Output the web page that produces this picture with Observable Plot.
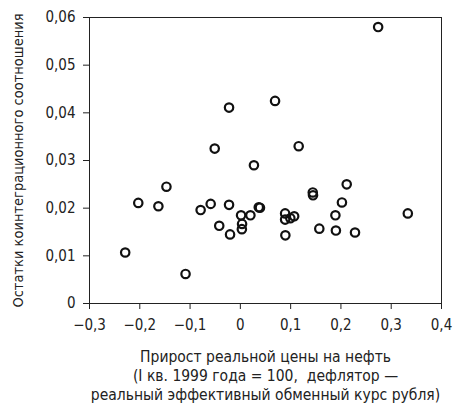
<!DOCTYPE html>
<html><head><meta charset="utf-8">
<script src="https://cdn.jsdelivr.net/npm/d3@7"></script>
<script src="https://cdn.jsdelivr.net/npm/@observablehq/plot@0.6"></script>
<style>
body{margin:0;background:#fff;}
svg{font-family:"Liberation Sans Narrow","DejaVu Sans Condensed",sans-serif;}
</style></head><body>
<div id="chart"></div>
<script>
const xs = [0.274,-0.0225,0.069,0.116,-0.051,0.027,-0.229,-0.203,-0.163,-0.147,-0.109,-0.079,-0.059,-0.042,-0.0225,-0.0205,0.0014,0.0034,0.003,0.020,0.0366,0.039,0.089,0.089,0.0994,0.107,0.0895,0.144,0.1445,0.157,0.189,0.190,0.202,0.2115,0.228,0.333];
const ys = [0.058,0.0411,0.0425,0.033,0.0325,0.029,0.0107,0.0211,0.0204,0.0245,0.0062,0.0196,0.0209,0.0163,0.0207,0.0145,0.0185,0.0167,0.0156,0.0185,0.0202,0.0201,0.0189,0.0176,0.0179,0.0183,0.0143,0.0233,0.0227,0.0157,0.0185,0.0153,0.0212,0.025,0.0149,0.0189];
const xTicks = [-0.3,-0.2,-0.1,0,0.1,0.2,0.3,0.4];
const yTicks = [0,0.01,0.02,0.03,0.04,0.05,0.06];
const xLabel = "Прирост реальной цены на нефть\n(I кв. 1999 года = 100,  дефлятор —\nреальный эффективный обменный курс рубля)";
const yLabel = "Остатки коинтеграционного соотношения";
const data = xs.map((x,i)=>({x, y: ys[i]}));
const fmt = (p) => d => d===0 ? "0" : d3.format("."+p+"f")(d).replace(".",",");
const chart = Plot.plot({
  width: 459, height: 405,
  marginLeft: 89, marginRight: 18, marginTop: 17, marginBottom: 102,
  style: {fontSize: "15px", color: "#222"},
  x: {domain: [-0.3,0.4], ticks: xTicks, tickFormat: fmt(1), label: null, tickSize: 6, tickPadding: 10},
  y: {domain: [0,0.06], ticks: yTicks, tickFormat: fmt(2), label: null, tickSize: 6, tickPadding: 8},
  marks: [
    Plot.frame({stroke: "#222", strokeWidth: 1}),
    Plot.dot(data, {x: "x", y: "y", r: 4.2, stroke: "#111", strokeWidth: 2.2, fill: "none"}),
    Plot.text([xLabel], {frameAnchor: "bottom", dy: 45, lineAnchor: "top", fontSize: 15.5, lineHeight: 1.23, fill: "#222"}),
    Plot.text([yLabel], {frameAnchor: "left", textAnchor: "middle", dx: -71, rotate: -90, fontSize: 14.5, fill: "#222"})
  ]
});
document.getElementById("chart").append(chart);
</script></body></html>
